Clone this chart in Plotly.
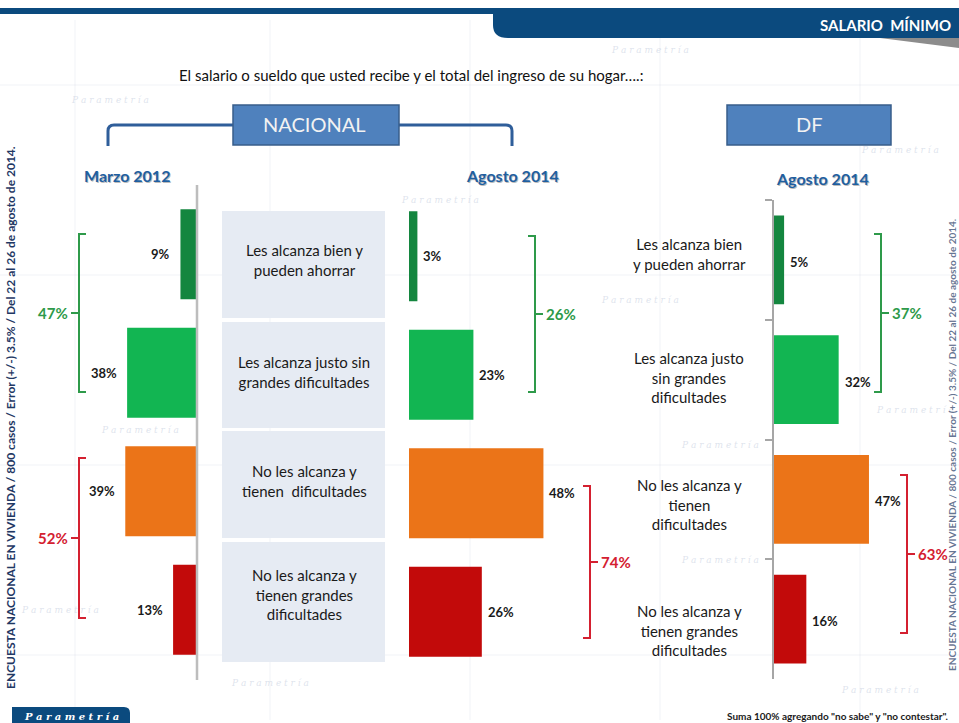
import plotly.graph_objects as go

W, H = 959, 723

# ---------------- data ----------------
categories = [
    "Les alcanza bien y pueden ahorrar",
    "Les alcanza justo sin grandes dificultades",
    "No les alcanza y tienen dificultades",
    "No les alcanza y tienen grandes dificultades",
]
mid_labels = [
    "Les alcanza bien y<br>pueden ahorrar",
    "Les alcanza justo sin<br>grandes dificultades",
    "No les alcanza y<br>tienen  dificultades",
    "No les alcanza y<br>tienen grandes<br>dificultades",
]
df_labels = [
    "Les alcanza bien<br>y pueden ahorrar",
    "Les alcanza justo<br>sin grandes<br>dificultades",
    "No les alcanza y<br>tienen<br>dificultades",
    "No les alcanza y<br>tienen grandes<br>dificultades",
]
nac_2012 = [9, 38, 39, 13]
nac_2014 = [3, 23, 48, 26]
df_2014 = [5, 32, 47, 16]
bar_colors = ["#14863F", "#12B552", "#EB7418", "#C20A0A"]

title_text = "El salario o sueldo que usted recibe y el total del ingreso de su hogar….:"
header_text = "SALARIO  MÍNIMO"
left_note = "ENCUESTA NACIONAL EN VIVIENDA / 800 casos / Error (+/-) 3.5% / Del 22 al 26 de agosto de 2014."
foot_note = "Suma 100% agregando \"no sabe\" y \"no contestar\"."

FONT = "Lato"
GREEN = "#2E9A4A"
RED = "#D42030"
NAVY = "#0B4A7E"


def px(x):
    return x / W


def py(y):
    return 1 - y / H


fig = go.Figure()

# ---------------- bars ----------------
fig.add_trace(go.Bar(y=categories, x=nac_2012, orientation="h", marker=dict(color=bar_colors, line=dict(width=0)),
                     width=0.76, xaxis="x", yaxis="y", hoverinfo="x+y"))
fig.add_trace(go.Bar(y=categories, x=nac_2014, orientation="h", marker=dict(color=bar_colors, line=dict(width=0)),
                     width=0.76, xaxis="x2", yaxis="y2", hoverinfo="x+y"))
fig.add_trace(go.Bar(y=categories, x=df_2014, orientation="h", marker=dict(color=bar_colors, line=dict(width=0)),
                     width=0.74, xaxis="x3", yaxis="y3", hoverinfo="x+y"))

hidden = dict(visible=False, fixedrange=True)
ycat = dict(type="category", categoryorder="array", categoryarray=categories, fixedrange=True,
            showgrid=False, zeroline=False, showticklabels=False)

fig.update_layout(
    xaxis=dict(domain=[px(60), px(197)], range=[74.5, 0], anchor="y", **hidden),
    yaxis=dict(domain=[py(669), py(195)], range=[3.5, -0.5], anchor="x", visible=False, **ycat),
    xaxis2=dict(domain=[px(409), px(600)], range=[0, 68.2], anchor="y2", **hidden),
    yaxis2=dict(domain=[py(671), py(197)], range=[3.5, -0.5], anchor="x2", visible=False, **ycat),
    xaxis3=dict(domain=[px(774), px(950)], range=[0, 87.1], anchor="y3", **hidden),
    yaxis3=dict(domain=[py(679), py(200)], range=[3.5, -0.5], anchor="x3", visible=True, showline=True,
                linecolor="#A6A6A6", linewidth=2, ticks="outside", tickson="boundaries", ticklen=7,
                tickcolor="#A6A6A6", tickwidth=1.5, **ycat),
)

shapes = []
ann = []


def note(x, y, text, font, xanchor="center", yanchor="middle", **kw):
    ann.append(dict(x=px(x), y=py(y), xref="paper", yref="paper", text=text, showarrow=False,
                    xanchor=xanchor, yanchor=yanchor, font=font, **kw))


# ---------------- background watermark (faint) ----------------
wm_font = dict(family="DejaVu Serif", size=9, color="rgba(190,200,218,0.5)")
for (x, y) in [(110, 100), (650, 50), (900, 150), (440, 200), (640, 300), (915, 410),
               (720, 445), (720, 560), (880, 690), (270, 683), (60, 610), (140, 430)]:
    note(x, y, "<i>P a r a m e t r í a</i>", wm_font)
for x in [75, 270, 470, 660, 860]:
    shapes.append(dict(type="line", xref="paper", yref="paper", x0=px(x), x1=px(x), y0=py(20), y1=py(720),
                       line=dict(color="rgba(200,210,225,0.25)", width=1), layer="below"))
for y in [85, 275, 465, 655]:
    shapes.append(dict(type="line", xref="paper", yref="paper", x0=0, x1=1, y0=py(y), y1=py(y),
                       line=dict(color="rgba(200,210,225,0.25)", width=1), layer="below"))

# ---------------- header banner ----------------
shapes.append(dict(type="rect", xref="paper", yref="paper", x0=0, x1=1, y0=py(14), y1=py(8),
                   fillcolor=NAVY, line=dict(width=0)))
shapes.append(dict(type="path", xref="paper", yref="paper",
                   path=f"M {px(493)},{py(8)} L {px(959)},{py(8)} L {px(959)},{py(38)} L {px(508)},{py(38)} "
                        f"Q {px(493)},{py(38)} {px(493)},{py(25)} Z",
                   fillcolor=NAVY, line=dict(width=0)))
shapes.append(dict(type="path", xref="paper", yref="paper",
                   path=f"M {px(880)},{py(38)} L {px(959)},{py(38)} L {px(959)},{py(48)} Z",
                   fillcolor="#8C8C8C", line=dict(width=0)))
note(818, 25, f"<b>{header_text}</b>", dict(family=FONT, size=15, color="white"), xanchor="left")

# title
note(411, 75, title_text, dict(family=FONT, size=15, color="#111111"))

# ---------------- NACIONAL / DF boxes ----------------
shapes.append(dict(type="path", xref="paper", yref="paper",
                   path=f"M {px(108)},{py(146)} L {px(108)},{py(131)} Q {px(108)},{py(125)} {px(114)},{py(125)} "
                        f"L {px(506)},{py(125)} Q {px(512)},{py(125)} {px(512)},{py(131)} L {px(512)},{py(146)}",
                   line=dict(color="#2F5E9A", width=3)))
shapes.append(dict(type="rect", xref="paper", yref="paper", x0=px(233), x1=px(399), y0=py(145), y1=py(105),
                   fillcolor="#4F81BD", line=dict(color="#385D8A", width=1.5)))
note(314, 124, "NACIONAL", dict(family=FONT, size=20, color="#F2F2F2"))
shapes.append(dict(type="rect", xref="paper", yref="paper", x0=px(727), x1=px(891), y0=py(145), y1=py(105),
                   fillcolor="#4F81BD", line=dict(color="#385D8A", width=1.5)))
note(809, 124, "DF", dict(family=FONT, size=20, color="#F2F2F2"))

# period headers
for (x, y, t) in [(127, 175, "Marzo 2012"), (512, 175, "Agosto 2014"), (822, 178, "Agosto 2014")]:
    note(x + 1, y + 1.2, f"<b>{t}</b>", dict(family=FONT, size=16, color="rgba(60,60,60,0.35)"))
    note(x, y, f"<b>{t}</b>", dict(family=FONT, size=16, color="#1F5FA0"))

# ---------------- left axis line ----------------
shapes.append(dict(type="line", xref="paper", yref="paper", x0=px(197), x1=px(197), y0=py(185), y1=py(680),
                   line=dict(color="#BDBDBD", width=2.5)))

# ---------------- middle label cells ----------------
cells = [(211, 318), (322, 428), (431, 538), (542, 662)]
mid_centres = [260, 372, 481, 594]
for (y0, y1), yc, lab in zip(cells, mid_centres, mid_labels):
    shapes.append(dict(type="rect", xref="paper", yref="paper", x0=px(222), x1=px(385), y0=py(y1), y1=py(y0),
                       fillcolor="#E6EBF3", line=dict(width=0), layer="below"))
    note(304, yc, lab, dict(family=FONT, size=15, color="#1A1A1A"), align="center")

# DF category labels
df_centres = [254, 377, 504, 630]
for yc, lab in zip(df_centres, df_labels):
    note(689, yc, lab, dict(family=FONT, size=15, color="#1A1A1A"), align="center")

# ---------------- value labels ----------------
vfont = dict(family=FONT, size=13, color="#1A1A1A")
for c, v in zip(categories, nac_2012):
    ann.append(dict(x=v, y=c, xref="x", yref="y", text=f"<b>{v}%</b>", showarrow=False, xanchor="right",
                    yanchor="middle", xshift=-8, font=vfont))
for c, v in zip(categories, nac_2014):
    ann.append(dict(x=v, y=c, xref="x2", yref="y2", text=f"<b>{v}%</b>", showarrow=False, xanchor="left",
                    yanchor="middle", xshift=4, font=vfont))
for c, v in zip(categories, df_2014):
    ann.append(dict(x=v, y=c, xref="x3", yref="y3", text=f"<b>{v}%</b>", showarrow=False, xanchor="left",
                    yanchor="middle", xshift=4, yshift=-2, font=vfont))


# ---------------- brackets with sums ----------------
def bracket(x, ytop, ybot, color, total, side):
    ym = (ytop + ybot) / 2
    if side == "left":  # label on the left, bracket opens to the right
        path = (f"M {px(x + 7)},{py(ytop)} L {px(x)},{py(ytop)} L {px(x)},{py(ybot)} L {px(x + 7)},{py(ybot)} "
                f"M {px(x)},{py(ym)} L {px(x - 8)},{py(ym)}")
        note(x - 9, ym, f"<b>{total}%</b>", dict(family=FONT, size=15, color=color), xanchor="right")
    else:
        path = (f"M {px(x - 7)},{py(ytop)} L {px(x)},{py(ytop)} L {px(x)},{py(ybot)} L {px(x - 7)},{py(ybot)} "
                f"M {px(x)},{py(ym)} L {px(x + 8)},{py(ym)}")
        note(x + 9, ym, f"<b>{total}%</b>", dict(family=FONT, size=15, color=color), xanchor="left")
    shapes.append(dict(type="path", xref="paper", yref="paper", path=path, line=dict(color=color, width=2)))


bracket(79, 234, 392, GREEN, nac_2012[0] + nac_2012[1], "left")
bracket(79, 458, 618, RED, nac_2012[2] + nac_2012[3], "left")
bracket(535, 236, 392, GREEN, nac_2014[0] + nac_2014[1], "right")
bracket(590, 486, 638, RED, nac_2014[2] + nac_2014[3], "right")
bracket(881, 234, 392, GREEN, df_2014[0] + df_2014[1], "right")
bracket(907, 475, 633, RED, df_2014[2] + df_2014[3], "right")

# ---------------- side notes & footer ----------------
note(10, 418, f"<b>{left_note}</b>", dict(family=FONT, size=12, color="#1F3864"), textangle=-90)
note(952, 445, f"<b>{left_note}</b>", dict(family=FONT, size=10, color="rgba(31,56,100,0.7)"),
     textangle=-90)

shapes.append(dict(type="path", xref="paper", yref="paper",
                   path=f"M {px(12)},{py(723)} L {px(12)},{py(707)} L {px(124)},{py(707)} "
                        f"Q {px(130)},{py(707)} {px(130)},{py(713)} L {px(130)},{py(723)} Z",
                   fillcolor=NAVY, line=dict(width=0)))
note(71, 716, "<i><b>P a r a m e t r í a</b></i>", dict(family="DejaVu Serif", size=10, color="white"))
note(950, 716, f"<b>{foot_note}</b>", dict(family=FONT, size=10, color="#1A1A1A"), xanchor="right")

fig.update_layout(
    width=W, height=H, margin=dict(l=0, r=0, t=0, b=0),
    paper_bgcolor="white", plot_bgcolor="rgba(0,0,0,0)",
    showlegend=False, bargap=0.2,
    shapes=shapes, annotations=ann,
)

fig.write_html("out.html", config={"displayModeBar": False},
               post_script="document.body.style.margin='0';document.body.style.overflow='hidden';")
